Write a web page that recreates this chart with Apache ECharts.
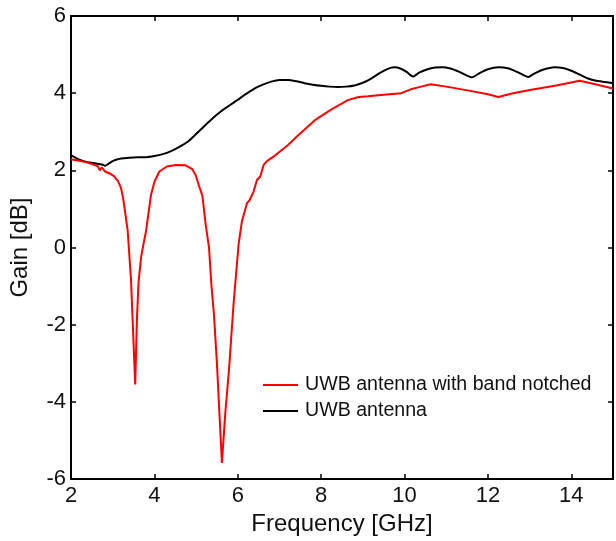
<!DOCTYPE html>
<html>
<head>
<meta charset="utf-8">
<script src="https://cdn.jsdelivr.net/npm/echarts@6/dist/echarts.min.js"></script>
<style>
  html, body { margin: 0; padding: 0; background: #fff; }
  #chart { width: 616px; height: 541px; }
</style>
</head>
<body>
<div id="chart"></div>
<script>
// ---- Data ----
const seriesNames = ['UWB antenna with band notched', 'UWB antenna'];

// UWB antenna with band notched (red)
const freqNotched = [2.0, 2.2, 2.4, 2.57, 2.65, 2.69, 2.74, 2.78, 2.82, 2.93, 3.03, 3.13, 3.2, 3.25, 3.3, 3.36, 3.44, 3.49, 3.54,
  3.58, 3.62, 3.68, 3.74, 3.8, 3.86, 3.92, 4.0, 4.12, 4.3, 4.52, 4.75, 4.91, 4.99, 5.07, 5.15, 5.23, 5.31, 5.37, 5.43, 5.5,
  5.56, 5.62, 5.7, 5.79, 5.9, 6.02, 6.1, 6.22, 6.28, 6.32, 6.38, 6.46, 6.5, 6.54, 6.62, 6.7, 6.9, 7.2, 7.45, 7.85, 8.25,
  8.64, 8.9, 9.12, 9.5, 9.92, 10.15, 10.4, 10.63, 11.0, 11.58, 12.0, 12.25, 12.6, 13.01, 13.64, 14.2, 14.5, 15.0];
const gainNotched = [2.29, 2.25, 2.2, 2.14, 2.1, 2.0, 2.08, 2.05, 1.97, 1.92, 1.85, 1.72, 1.54, 1.28, 0.9, 0.43, -0.85, -2.2, -3.55,
  -1.9, -0.9, -0.26, 0.1, 0.43, 0.9, 1.37, 1.7, 1.97, 2.1, 2.14, 2.13, 2.03, 1.88, 1.6, 1.35, 0.6, 0.0, -1.0, -1.75, -2.99,
  -4.3, -5.58, -4.3, -3.16, -1.45, 0.09, 0.68, 1.15, 1.22, 1.26, 1.45, 1.75, 1.8, 1.84, 2.14, 2.24, 2.39, 2.65, 2.91, 3.3, 3.58,
  3.82, 3.9, 3.92, 3.96, 4.0, 4.1, 4.17, 4.23, 4.17, 4.06, 3.97, 3.9, 4.0, 4.08, 4.2, 4.32, 4.25, 4.12];

// UWB antenna (black)
const freqUWB = [2.0, 2.2, 2.4, 2.6, 2.75, 2.82, 2.9, 3.0, 3.1, 3.2, 3.4, 3.6, 3.8, 4.0, 4.2, 4.4, 4.6, 4.8, 5.0, 5.2, 5.4,
  5.6, 5.8, 6.0, 6.2, 6.4, 6.6, 6.8, 7.0, 7.2, 7.4, 7.6, 7.8, 8.0, 8.2, 8.4, 8.6, 8.8, 9.0, 9.2, 9.4, 9.6, 9.75, 9.9, 10.05,
  10.2, 10.35, 10.5, 10.7, 10.9, 11.1, 11.3, 11.45, 11.62, 11.8, 12.0, 12.25, 12.5, 12.7, 12.85, 12.97, 13.1, 13.3, 13.6,
  13.8, 14.0, 14.2, 14.4, 14.6, 14.8, 15.0];
const gainUWB = [2.39, 2.28, 2.21, 2.18, 2.15, 2.12, 2.17, 2.24, 2.28, 2.31, 2.33, 2.34, 2.34, 2.37, 2.42, 2.5, 2.61, 2.74, 2.94,
  3.15, 3.35, 3.53, 3.68, 3.83, 3.98, 4.12, 4.22, 4.3, 4.34, 4.34, 4.31, 4.26, 4.22, 4.19, 4.17, 4.16, 4.17, 4.2, 4.27, 4.38,
  4.52, 4.63, 4.67, 4.64, 4.55, 4.43, 4.53, 4.6, 4.66, 4.67, 4.64, 4.56, 4.48, 4.41, 4.52, 4.62, 4.67, 4.64, 4.55, 4.47, 4.42,
  4.5, 4.6, 4.67, 4.65, 4.58, 4.48, 4.38, 4.32, 4.29, 4.26];

const xTicks = [2, 4, 6, 8, 10, 12, 14];
const yTicks = [-6, -4, -2, 0, 2, 4, 6];

// ---- Chart ----
const pairs = (xs, ys) => xs.map((x, i) => [x, ys[i]]);
const FONT = '"Liberation Sans", Arial, Helvetica, sans-serif';
const axisLine = { show: true, onZero: false, lineStyle: { color: '#000', width: 2 } };
const tickIn = { show: true, inside: true, length: 5, lineStyle: { color: '#000', width: 1.5 } };

const chart = echarts.init(document.getElementById('chart'), null, { renderer: 'canvas' });
chart.setOption({
  animation: false,
  backgroundColor: '#fff',
  grid: { left: 71, right: 1, top: 16, bottom: 58, containLabel: false },
  legend: {
    orient: 'vertical',
    left: 263,
    top: 375,
    padding: 0,
    itemGap: 6,
    itemWidth: 35,
    itemHeight: 2,
    icon: 'rect',
    textStyle: { fontFamily: FONT, fontSize: 19.6, color: '#111', lineHeight: 20, padding: [0, 0, 0, 2] },
    data: seriesNames
  },
  xAxis: [
    {
      type: 'value', position: 'bottom',
      min: xTicks[0], max: 15, interval: 2,
      name: 'Frequency [GHz]', nameLocation: 'middle', nameGap: 30,
      nameTextStyle: { fontFamily: FONT, fontSize: 24, color: '#111' },
      axisLine: axisLine, axisTick: tickIn,
      axisLabel: { fontFamily: FONT, fontSize: 22, color: '#111', margin: 6,
        formatter: v => xTicks.includes(v) ? String(v) : '' },
      splitLine: { show: false }
    },
    {
      type: 'value', position: 'top',
      min: xTicks[0], max: 15, interval: 2,
      axisLine: axisLine, axisTick: tickIn,
      axisLabel: { show: false }, splitLine: { show: false }
    }
  ],
  yAxis: [
    {
      type: 'value', position: 'left',
      min: yTicks[0], max: yTicks[yTicks.length - 1], interval: 2,
      name: 'Gain [dB]', nameLocation: 'middle', nameGap: 39,
      nameTextStyle: { fontFamily: FONT, fontSize: 24, color: '#111' },
      axisLine: axisLine, axisTick: tickIn,
      axisLabel: { fontFamily: FONT, fontSize: 22, color: '#111', margin: 5 },
      splitLine: { show: false }
    },
    {
      type: 'value', position: 'right',
      min: yTicks[0], max: yTicks[yTicks.length - 1], interval: 2,
      axisLine: axisLine, axisTick: tickIn,
      axisLabel: { show: false }, splitLine: { show: false }
    }
  ],
  series: [
    {
      name: seriesNames[0], type: 'line', xAxisIndex: 0, yAxisIndex: 0,
      data: pairs(freqNotched, gainNotched),
      symbol: 'none', smooth: false,
      lineStyle: { color: '#ff0000', width: 2 }, itemStyle: { color: '#ff0000' }, z: 3
    },
    {
      name: seriesNames[1], type: 'line', xAxisIndex: 0, yAxisIndex: 0,
      data: pairs(freqUWB, gainUWB),
      symbol: 'none', smooth: 0.2,
      lineStyle: { color: '#000000', width: 2 }, itemStyle: { color: '#000000' }, z: 2
    }
  ]
});
</script>
</body>
</html>
